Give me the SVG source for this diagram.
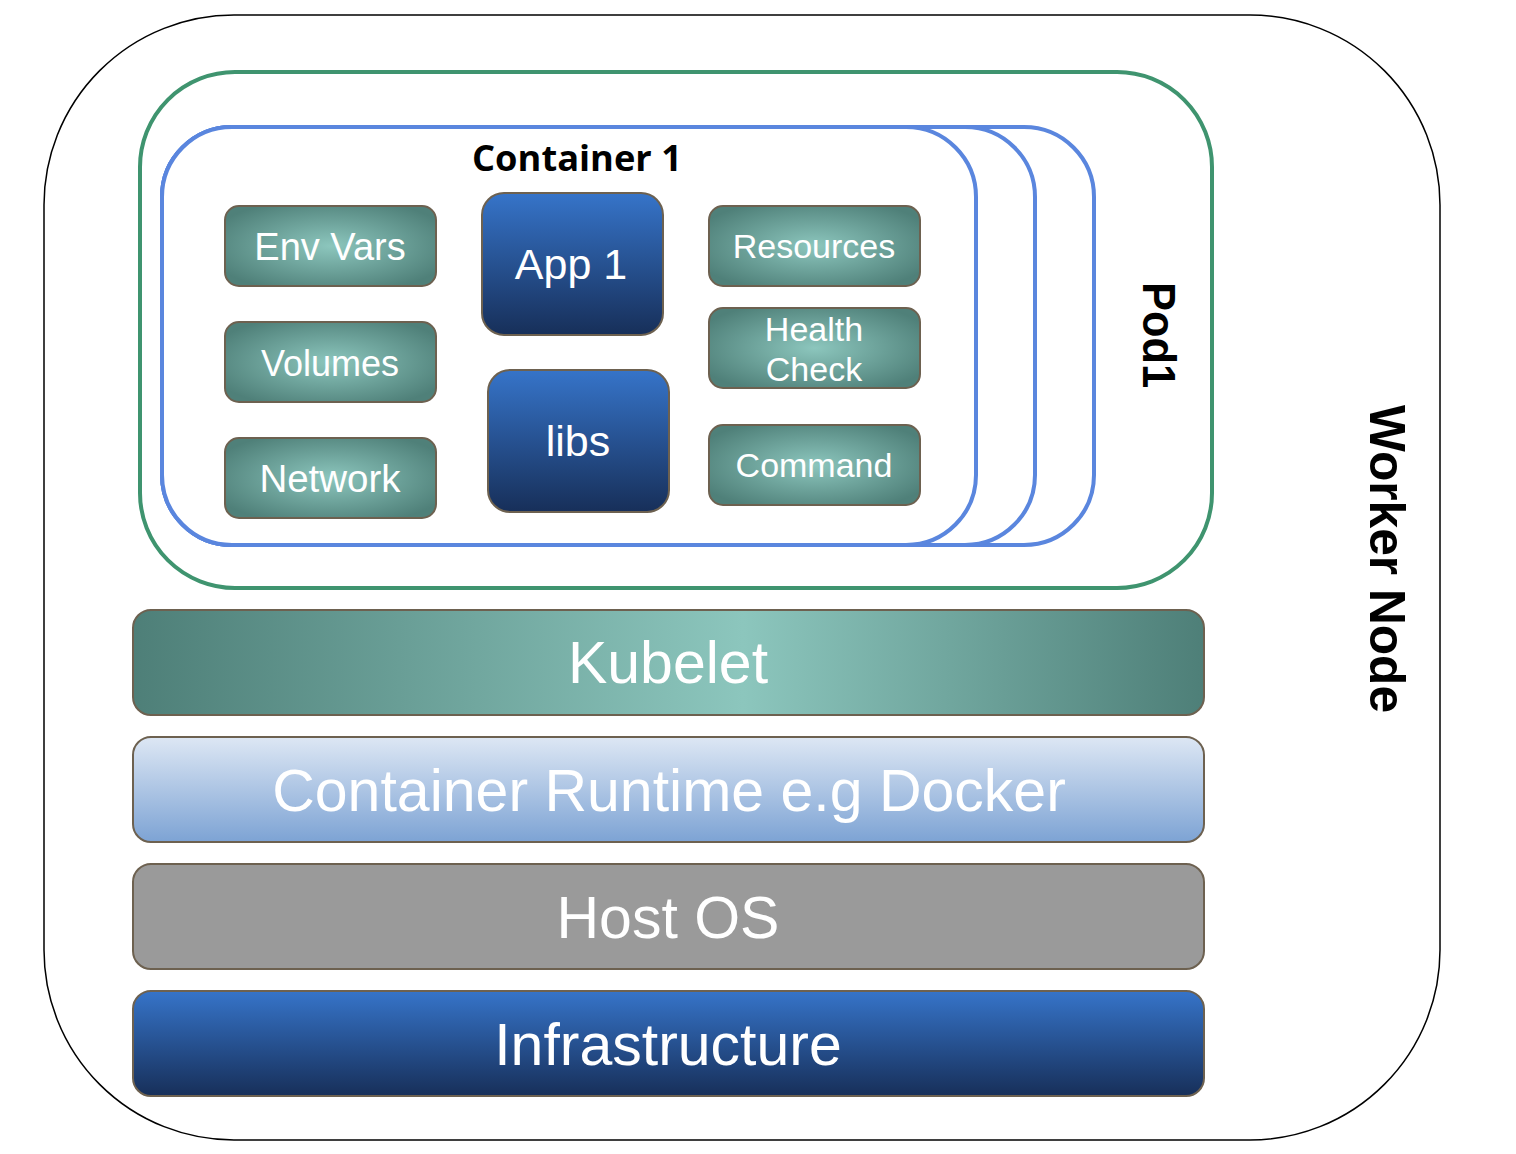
<svg xmlns="http://www.w3.org/2000/svg" width="1516" height="1154" viewBox="0 0 1516 1154">
<defs>
<radialGradient id="teal" cx="50%" cy="50%" r="60%">
<stop offset="0" stop-color="#8cc6bd"/>
<stop offset="1" stop-color="#4f8079"/>
</radialGradient>
<linearGradient id="kube" x1="0" y1="0" x2="1" y2="0">
<stop offset="0" stop-color="#4e7f78"/>
<stop offset="0.57" stop-color="#8cc6bd"/>
<stop offset="1" stop-color="#4e7f78"/>
</linearGradient>
<linearGradient id="navy" x1="0" y1="0" x2="0" y2="1">
<stop offset="0" stop-color="#3674c9"/>
<stop offset="1" stop-color="#172f59"/>
</linearGradient>
<linearGradient id="sky" x1="0" y1="0" x2="0" y2="1">
<stop offset="0" stop-color="#dde7f4"/>
<stop offset="1" stop-color="#7da3d4"/>
</linearGradient>
<style>
.lbl{font-family:"Liberation Sans",Arial,sans-serif;fill:#ffffff;text-anchor:middle}
.small{fill:url(#teal);stroke:#6d6150;stroke-width:2}
.big{fill:url(#navy);stroke:#6d6150;stroke-width:2}
.bar{stroke:#6d6150;stroke-width:2}
.cont{fill:#ffffff;stroke:#5a86de;stroke-width:4}
.title{font-family:"Liberation Sans",Arial,sans-serif;font-weight:bold;fill:#000000;text-anchor:middle}
</style>
</defs>
<rect width="1516" height="1154" fill="#ffffff"/>
<g id="worker-node">
<rect x="44" y="15" width="1396" height="1125" rx="190" ry="190" fill="#ffffff" stroke="#000000" stroke-width="1.5"/>
<text class="title" font-size="50" textLength="308" lengthAdjust="spacingAndGlyphs" transform="translate(1370,559) rotate(90)">Worker Node</text>
</g>
<g id="pod1">
<rect x="140" y="72" width="1072" height="516" rx="95" ry="95" fill="#ffffff" stroke="#3f946f" stroke-width="4"/>
<text class="title" font-size="46" textLength="106" lengthAdjust="spacingAndGlyphs" transform="translate(1143,335) rotate(90)">Pod1</text>
</g>
<g id="container-3">
<rect class="cont" x="162" y="127" width="932" height="418" rx="70" ry="70"/>
</g>
<g id="container-2">
<rect class="cont" x="162" y="127" width="873" height="418" rx="70" ry="70"/>
</g>
<g id="container-1">
<rect class="cont" x="162" y="127" width="814" height="418" rx="70" ry="70"/>
<text x="577" y="171" font-family="'Open Sans','Noto Sans',sans-serif" font-weight="bold" font-size="35" text-anchor="middle" textLength="210" lengthAdjust="spacingAndGlyphs" fill="#000000">Container 1</text>
</g>
<g id="env-vars">
<rect class="small" x="225" y="206" width="211" height="80" rx="14"/>
<text class="lbl" x="330" y="260" font-size="38">Env Vars</text>
</g>
<g id="volumes">
<rect class="small" x="225" y="322" width="211" height="80" rx="14"/>
<text class="lbl" x="330" y="376" font-size="36">Volumes</text>
</g>
<g id="network">
<rect class="small" x="225" y="438" width="211" height="80" rx="14"/>
<text class="lbl" x="330" y="492" font-size="38.5">Network</text>
</g>
<g id="resources">
<rect class="small" x="709" y="206" width="211" height="80" rx="14"/>
<text class="lbl" x="814" y="258" font-size="34">Resources</text>
</g>
<g id="health-check">
<rect class="small" x="709" y="308" width="211" height="80" rx="14"/>
<text class="lbl" x="814" y="341" font-size="34">Health</text>
<text class="lbl" x="814" y="381" font-size="34">Check</text>
</g>
<g id="command">
<rect class="small" x="709" y="425" width="211" height="80" rx="14"/>
<text class="lbl" x="814" y="477" font-size="34">Command</text>
</g>
<g id="app1">
<rect class="big" x="482" y="193" width="181" height="142" rx="22"/>
<text class="lbl" x="571" y="279" font-size="43">App 1</text>
</g>
<g id="libs">
<rect class="big" x="488" y="370" width="181" height="142" rx="22"/>
<text class="lbl" x="578" y="456" font-size="43">libs</text>
</g>
<g id="kubelet">
<rect class="bar" x="133" y="610" width="1071" height="105" rx="18" fill="url(#kube)"/>
<text class="lbl" x="668" y="683" font-size="59">Kubelet</text>
</g>
<g id="container-runtime">
<rect class="bar" x="133" y="737" width="1071" height="105" rx="18" fill="url(#sky)"/>
<text class="lbl" x="669" y="811" font-size="59">Container Runtime e.g Docker</text>
</g>
<g id="host-os">
<rect class="bar" x="133" y="864" width="1071" height="105" rx="18" fill="#9a9a9a"/>
<text class="lbl" x="668" y="938" font-size="59">Host OS</text>
</g>
<g id="infrastructure">
<rect class="bar" x="133" y="991" width="1071" height="105" rx="18" fill="url(#navy)"/>
<text class="lbl" x="668" y="1065" font-size="59">Infrastructure</text>
</g>
<g id="connectors"/>
</svg>
